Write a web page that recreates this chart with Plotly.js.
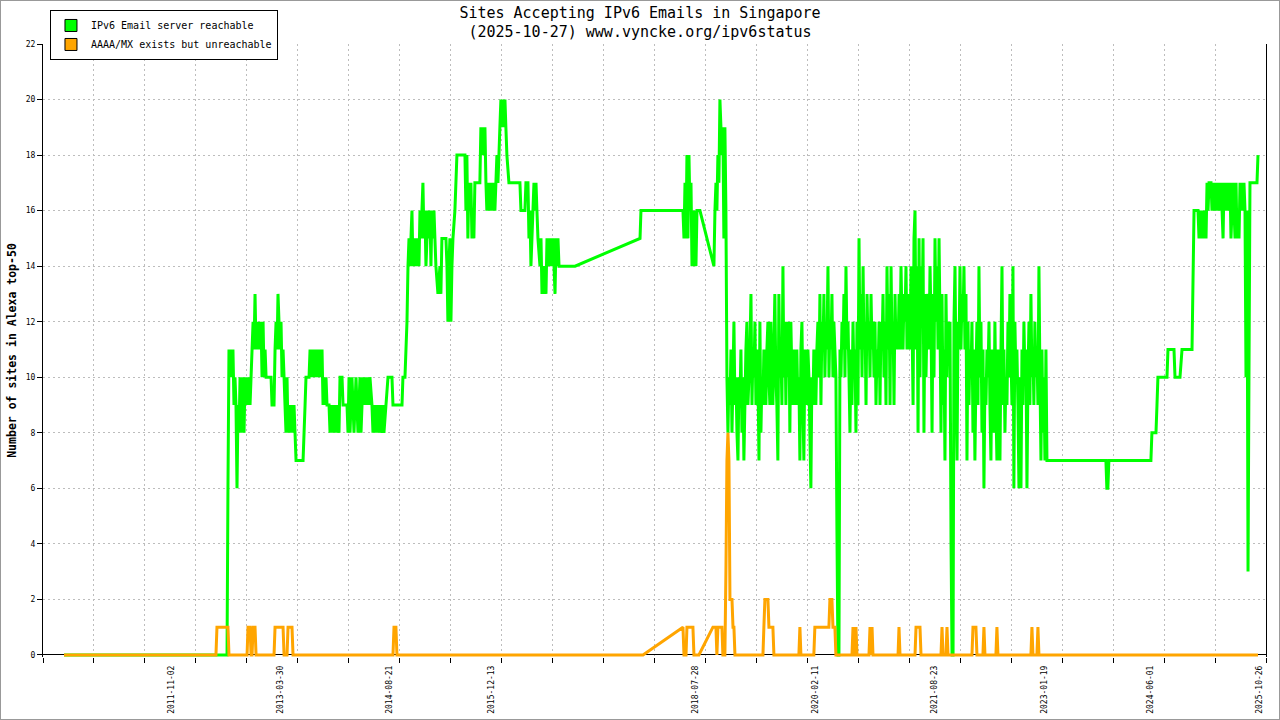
<!DOCTYPE html>
<html>
<head>
<meta charset="utf-8">
<script src="https://cdn.plot.ly/plotly-3.0.1.min.js"></script>
<style>
html,body{margin:0;padding:0;background:#fff;}
#chart{width:1278px;height:718px;border:1px solid #999;}
</style>
</head>
<body>
<div id="chart"></div>
<script>
// ---- data (x as decimal years) ----
const greenYears = [
2010.460,2012.554,2012.566,2012.579,2012.592,2012.605,2012.618,2012.630,2012.643,2012.656,
2012.669,2012.682,2012.695,2012.708,2012.721,2012.733,2012.746,2012.759,2012.772,2012.785,
2012.798,2012.811,2012.823,2012.836,2012.849,2012.862,2012.875,2012.888,2012.900,2012.913,
2012.926,2012.939,2012.952,2012.965,2012.978,2012.990,2013.003,2013.016,2013.029,2013.042,
2013.055,2013.119,2013.131,2013.157,2013.170,2013.183,2013.196,2013.208,2013.221,2013.234,
2013.247,2013.260,2013.273,2013.286,2013.298,2013.311,2013.324,2013.337,2013.350,2013.363,
2013.376,2013.401,2013.414,2013.427,2013.440,2013.530,2013.543,2013.556,2013.568,2013.607,
2013.620,2013.633,2013.646,2013.658,2013.671,2013.684,2013.697,2013.710,2013.723,2013.735,
2013.748,2013.761,2013.774,2013.787,2013.800,2013.813,2013.825,2013.838,2013.864,2013.877,
2013.890,2013.902,2013.915,2013.928,2013.941,2013.954,2013.967,2013.992,2014.005,2014.031,
2014.044,2014.095,2014.108,2014.121,2014.134,2014.146,2014.159,2014.172,2014.185,2014.198,
2014.211,2014.223,2014.236,2014.249,2014.262,2014.275,2014.288,2014.301,2014.326,2014.339,
2014.352,2014.365,2014.378,2014.390,2014.416,2014.429,2014.442,2014.455,2014.468,2014.480,
2014.493,2014.506,2014.519,2014.545,2014.557,2014.570,2014.596,2014.622,2014.673,2014.686,
2014.802,2014.814,2014.840,2014.853,2014.866,2014.879,2014.892,2014.904,2014.917,2014.930,
2014.943,2014.956,2014.969,2014.981,2014.994,2015.007,2015.020,2015.033,2015.046,2015.058,
2015.071,2015.084,2015.097,2015.110,2015.123,2015.135,2015.148,2015.161,2015.174,2015.187,
2015.200,2015.213,2015.225,2015.238,2015.264,2015.290,2015.302,2015.315,2015.367,2015.380,
2015.392,2015.405,2015.418,2015.431,2015.444,2015.457,2015.482,2015.508,2015.611,2015.624,
2015.636,2015.649,2015.662,2015.675,2015.688,2015.701,2015.713,2015.726,2015.739,2015.803,
2015.816,2015.829,2015.842,2015.855,2015.868,2015.881,2015.893,2015.906,2015.919,2015.932,
2015.945,2015.958,2015.970,2015.983,2015.996,2016.009,2016.022,2016.035,2016.048,2016.060,
2016.073,2016.086,2016.099,2016.112,2016.125,2016.137,2016.150,2016.176,2016.317,2016.330,
2016.381,2016.394,2016.420,2016.433,2016.446,2016.458,2016.471,2016.484,2016.497,2016.510,
2016.523,2016.535,2016.548,2016.574,2016.587,2016.600,2016.612,2016.625,2016.638,2016.651,
2016.664,2016.677,2016.690,2016.703,2016.715,2016.728,2016.741,2016.754,2016.767,2016.780,
2016.792,2016.805,2016.818,2017.024,2017.859,2017.871,2018.411,2018.424,2018.437,2018.450,
2018.462,2018.475,2018.488,2018.501,2018.514,2018.527,2018.539,2018.552,2018.565,2018.578,
2018.591,2018.629,2018.809,2018.822,2018.835,2018.847,2018.860,2018.873,2018.886,2018.899,
2018.912,2018.924,2018.937,2018.950,2018.963,2018.976,2018.989,2019.002,
2019.015,2019.028,2019.041,2019.054,2019.066,2019.079,2019.092,2019.105,2019.118,2019.131,
2019.143,2019.156,2019.169,2019.182,2019.194,2019.207,2019.220,2019.233,2019.246,2019.259,
2019.272,2019.285,2019.298,2019.311,2019.323,2019.336,2019.349,2019.362,2019.375,2019.388,
2019.400,2019.413,2019.426,2019.439,2019.451,2019.464,2019.477,2019.490,2019.503,2019.516,
2019.528,2019.541,2019.554,2019.567,2019.579,2019.592,2019.605,2019.618,2019.631,2019.644,
2019.657,2019.670,2019.683,2019.696,2019.708,2019.721,2019.734,2019.747,2019.760,2019.773,
2019.785,2019.798,2019.811,2019.824,2019.836,2019.849,2019.862,2019.875,2019.888,2019.901,
2019.914,2019.927,2019.940,2019.953,2019.965,2019.978,2019.991,2020.004,2020.017,2020.030,
2020.042,2020.055,2020.068,2020.081,2020.093,2020.106,2020.119,2020.132,2020.145,2020.158,
2020.171,2020.184,2020.197,2020.210,2020.222,2020.235,2020.248,2020.261,2020.274,2020.287,
2020.299,2020.312,2020.325,2020.338,2020.350,2020.363,2020.376,2020.389,2020.402,2020.415,
2020.428,2020.441,2020.454,2020.467,2020.479,2020.492,2020.505,2020.518,2020.531,2020.544,
2020.556,2020.569,2020.582,2020.595,2020.607,2020.620,2020.633,2020.646,2020.659,2020.672,
2020.685,2020.698,2020.711,2020.724,2020.736,2020.749,2020.762,2020.775,2020.788,2020.801,
2020.813,2020.826,2020.839,2020.852,2020.864,2020.877,2020.890,2020.903,2020.916,2020.929,
2020.941,2020.954,2020.967,2020.980,2020.992,2021.005,2021.018,2021.031,2021.044,2021.057,
2021.070,2021.083,2021.096,2021.109,2021.121,2021.134,2021.147,2021.160,2021.173,2021.186,
2021.198,2021.211,2021.224,2021.237,2021.249,2021.262,2021.275,2021.288,2021.301,2021.314,
2021.327,2021.340,2021.353,2021.366,2021.378,2021.391,2021.404,2021.417,2021.430,2021.443,
2021.455,2021.468,2021.481,2021.494,2021.506,2021.519,2021.532,2021.545,2021.558,2021.571,
2021.584,2021.597,2021.610,2021.623,2021.635,2021.648,2021.661,2021.674,2021.687,2021.700,
2021.712,2021.725,2021.738,2021.751,2021.763,2021.776,2021.789,2021.802,2021.815,2021.828,
2021.841,2021.854,2021.867,2021.880,2021.892,2021.905,2021.918,2021.931,2021.944,2021.957,
2021.969,2021.982,2021.995,2022.008,2022.020,2022.033,2022.046,2022.059,2022.072,2022.085,
2022.097,2022.110,2022.123,2022.136,2022.148,2022.161,2022.174,2022.187,2022.200,2022.213,
2022.226,2022.239,2022.252,2022.265,2022.277,2022.290,2022.303,2022.316,2022.329,2022.342,
2022.354,2022.367,2022.380,2022.393,2022.405,2022.418,2022.431,2022.444,2022.457,2022.470,
2022.483,2022.496,2022.509,2022.522,2022.534,2022.547,2022.560,2022.573,2022.586,2022.599,
2022.611,2022.624,2022.637,2022.650,2022.662,2022.675,2022.688,2022.701,2022.714,2022.727,
2022.740,2022.753,2022.766,2022.779,2022.791,2022.804,2022.817,2022.830,2022.843,2022.856,
2022.868,2022.881,2022.894,2022.907,2022.919,2022.932,2022.945,2022.958,2022.971,2022.984,
2022.997,2023.010,2023.023,2023.036,2023.048,2023.061,2023.074,2023.087,
2023.845,2023.857,2023.870,2023.883,2024.422,2024.435,2024.487,2024.500,2024.512,2024.628,
2024.641,2024.718,2024.731,2024.795,2024.821,2024.949,2024.962,2024.975,2025.026,2025.039,
2025.052,2025.065,2025.078,2025.090,2025.116,2025.129,2025.142,2025.155,2025.168,2025.193,
2025.206,2025.219,2025.232,2025.245,2025.258,2025.270,2025.283,2025.296,2025.309,2025.322,
2025.335,2025.348,2025.360,2025.373,2025.386,2025.399,2025.412,2025.425,2025.437,2025.450,
2025.463,2025.476,2025.489,2025.502,2025.515,2025.527,2025.540,2025.553,2025.566,2025.579,
2025.592,2025.604,2025.617,2025.630,2025.643,2025.656,2025.669,2025.681,2025.694,2025.784,
2025.797
];
const greenValues = [
0,0,6,11,10,11,10,11,9,10,
9,6,9,8,10,8,9,10,8,10,
9,10,9,10,9,10,11,12,11,13,
11,12,11,12,11,12,10,12,10,11,
10,10,9,9,11,12,11,13,12,11,
12,10,11,10,9,8,10,8,9,8,
9,8,9,8,7,7,8,9,10,10,
11,10,11,10,11,10,11,10,11,10,
11,10,11,9,10,9,10,9,9,8,
9,8,9,8,9,8,9,8,10,10,
9,9,8,10,8,9,10,9,8,9,
10,9,8,9,10,8,9,10,9,10,
9,10,9,10,9,8,9,8,9,8,
9,8,9,8,9,8,9,10,10,9,
9,10,10,11,12,14,15,14,15,16,
14,15,14,15,14,15,14,16,15,16,
17,15,16,14,15,16,15,16,14,16,
15,16,15,14,13,14,13,15,15,14,
12,14,15,12,14,15,16,18,18,16,
18,15,17,16,17,15,16,15,17,17,
19,18,19,18,19,17,16,17,16,17,
16,17,16,17,16,17,18,17,18,19,
20,19,20,19,20,19,18,17,17,16,
16,17,17,15,16,14,15,16,17,16,
17,16,15,14,15,13,14,13,14,13,
15,14,15,14,15,14,15,14,13,15,
14,15,14,14,15,16,16,15,17,15,
18,15,18,16,17,14,16,14,16,14,
16,16,14,16,17,16,18,17,20,19,
18,19,15,19,16,10,8,10,
9,11,8,10,12,9,10,8,7,10,
9,11,8,10,7,9,11,12,9,10,
11,13,9,11,10,12,9,11,10,7,
12,8,10,9,11,10,9,11,12,10,
9,12,10,9,11,13,10,9,7,13,
10,11,9,14,10,12,9,12,10,12,
8,12,10,9,11,10,9,11,9,10,
7,11,12,9,7,11,10,9,11,10,
8,6,10,9,11,10,9,11,12,10,
13,9,12,11,13,10,12,11,14,10,
12,11,13,10,12,11,10,4.5,0,0,
11,10,12,11,13,10,14,11,12,10,
8,11,9,12,10,11,8,12,9,15,
11,13,10,14,11,12,9,13,11,12,
10,13,11,12,10,12,9,11,10,12,
9,12,11,13,10,12,9,14,11,13,
9,14,11,12,9,13,11,12,11,13,
11,14,12,11,13,12,14,11,13,12,
11,14,12,9,15,16,11,14,8,15,
10,14,12,15,8,13,10,12,13,11,
14,12,8,13,10,15,12,14,11,15,
12,8,13,9,11,7,13,10,12,11,
12,4,0,0,12,14,10,7,12,11,
14,11,13,12,14,11,13,7,12,9,
11,10,12,8,11,7,10,12,9,14,
10,12,8,11,6,10,9,11,10,12,
9,7,11,10,8,12,9,7,11,10,
7,11,14,9,11,8,10,9,12,10,
13,11,9,14,6,12,10,11,9,6,
10,6,11,9,12,10,11,6,10,12,
9,13,10,11,9,12,10,11,9,14,
10,7,11,8,10,7,11,7,
7,6,6,7,7,8,8,9,10,10,
11,11,10,10,11,11,13.5,16,16,15,
16,15,16,15,16,15,17,16,17,17,
16,17,16,17,16,17,16,17,16,17,
16,15,17,16,17,16,17,16,17,15,
16,17,16,15,17,15,16,15,17,16,
17,16,17,16,10,16,3,10,17,17,
18
];
const orangeYears = [
2010.460,2012.412,2012.425,2012.566,2012.579,2012.811,2012.823,2012.849,2012.862,2012.875,
2012.888,2012.913,2012.926,2013.157,2013.170,2013.273,2013.286,2013.324,2013.337,2013.388,
2013.401,2014.686,2014.699,2014.724,2014.737,2017.897,2018.411,2018.424,2018.450,2018.462,
2018.539,2018.552,2018.616,2018.796,2018.835,2018.847,2018.860,2018.912,2018.924,2018.950,
2018.963,2018.976,2018.989,2019.002,2019.015,2019.041,2019.054,2019.066,2019.079,2019.439,
2019.451,2019.464,2019.503,2019.516,2019.567,2019.580,2019.901,2019.914,2019.927,2020.093,
2020.106,2020.286,2020.299,2020.325,2020.338,2020.363,2020.376,2020.582,2020.595,2020.607,
2020.620,2020.633,2020.646,2020.800,2020.813,2020.826,2020.839,2020.851,2021.173,2021.185,
2021.198,2021.391,2021.404,2021.455,2021.468,2021.725,2021.738,2021.751,2021.789,2021.802,
2021.815,2022.123,2022.136,2022.174,2022.187,2022.264,2022.277,2022.290,2022.431,2022.444,
2022.457,2022.881,2022.894,2022.907,2022.958,2022.971,2022.984,2025.797
];
const orangeValues = [
0,0,1,1,0,0,1,1,0,0,
1,1,0,0,1,1,0,0,1,1,
0,0,1,1,0,0,1,0,0,1,
1,0,0,1,1,0,1,1,0,0,
3,7,8,7,2,2,1,1,0,0,
1,2,2,1,1,0,0,1,0,0,
1,1,2,2,1,1,0,0,1,0,
0,1,0,0,1,0,1,0,0,1,
0,0,1,1,0,0,1,0,0,1,
0,0,1,1,0,0,1,0,0,1,
0,0,1,0,0,1,0,0
];
const seriesNames = ['IPv6 Email server reachable', 'AAAA/MX exists but unreachable'];
const seriesColors = ['#00ff00', '#ffa500'];
const tickDates = ['2011-11-02','2013-03-30','2014-08-21','2015-12-13','2018-07-28',
                   '2020-02-11','2021-08-23','2023-01-19','2024-06-01','2025-10-26'];
const tickLabels = tickDates.slice();
const chartTitle = 'Sites Accepting IPv6 Emails in Singapore<br>(2025-10-27) www.vyncke.org/ipv6status';
const yTitle = 'Number of sites in Alexa top-50';

// ---- helpers ----
function yearToMs(t) {
  const y = Math.floor(t);
  const s = Date.UTC(y, 0, 1), e = Date.UTC(y + 1, 0, 1);
  return s + (t - y) * (e - s);
}
function msToStr(ms) {
  return new Date(ms).toISOString().replace('T', ' ').slice(0, 19);
}
function yearToDate(t) { return msToStr(yearToMs(t)); }

const FONT = 'DejaVu Sans Mono, monospace';
const xStartMs = yearToMs(2010.190), xEndMs = yearToMs(2025.900);
const xRange = [msToStr(xStartMs), msToStr(xEndMs)];
const gridStep = (xEndMs - xStartMs) / 24;

const traces = [
  {type:'scatter', mode:'lines', x: greenYears.map(yearToDate), y: greenValues,
   line:{color:seriesColors[0], width:3, simplify:false}, showlegend:false, hoverinfo:'skip',
   xaxis:'x', yaxis:'y'},
  {type:'scatter', mode:'lines', x: orangeYears.map(yearToDate), y: orangeValues,
   line:{color:seriesColors[1], width:3, simplify:false}, showlegend:false, hoverinfo:'skip',
   xaxis:'x2', yaxis:'y'},
  {type:'bar', x:[null], y:[null], name: seriesNames[0],
   marker:{color:seriesColors[0], line:{color:'#000', width:1}}, xaxis:'x', yaxis:'y', hoverinfo:'skip'},
  {type:'bar', x:[null], y:[null], name: seriesNames[1],
   marker:{color:seriesColors[1], line:{color:'#000', width:1}}, xaxis:'x', yaxis:'y', hoverinfo:'skip'}
];

const layout = {
  width: 1278, height: 718,
  margin: {l:42, r:13, t:43, b:62, autoexpand:false},
  paper_bgcolor:'#fff', plot_bgcolor:'#fff',
  font:{family:FONT, color:'#000', size:10},
  title:{text: chartTitle, font:{family:FONT, size:15, color:'#000'},
         x:0.5, xanchor:'center', xref:'container', y:0.977, yanchor:'top', yref:'container'},
  showlegend:true,
  legend:{x:0.0057, y:1.0555, xanchor:'left', yanchor:'top', bgcolor:'#fff',
          bordercolor:'#000', borderwidth:1, font:{family:FONT, size:10, color:'#000'},
          traceorder:'normal', itemwidth:30, tracegroupgap:0},
  xaxis:{type:'date', range:xRange, tick0:xRange[0], dtick:gridStep, showticklabels:false,
         ticks:'outside', ticklen:5, tickcolor:'#000', showgrid:true, gridcolor:'#bdbdbd',
         griddash:'2px,3px', gridwidth:1, showline:false, zeroline:false},
  xaxis2:{type:'date', overlaying:'x', anchor:'y', side:'bottom', range:xRange,
          tickmode:'array', tickvals:tickDates, ticktext:tickLabels, tickangle:-90,
          ticks:'', showgrid:false, showline:false, zeroline:false,
          tickfont:{family:FONT, size:8, color:'#000'}, ticklabelstandoff:6},
  yaxis:{range:[-0.075, 22], tickmode:'linear', tick0:0, dtick:2, ticks:'outside', ticklen:5,
         tickcolor:'#000', showline:true, linecolor:'#000', linewidth:1, mirror:true,
         showgrid:true, gridcolor:'#bdbdbd', griddash:'2px,3px', gridwidth:1,
         zeroline:true, zerolinecolor:'#000', zerolinewidth:1,
         tickfont:{family:FONT, size:8, color:'#000'},
         title:{text:yTitle, font:{family:FONT, size:11.5, color:'#000', weight:'bold'}, standoff:6}},
  bargap:0
};

Plotly.newPlot('chart', traces, layout, {displayModeBar:false, staticPlot:true});
</script>
</body>
</html>
